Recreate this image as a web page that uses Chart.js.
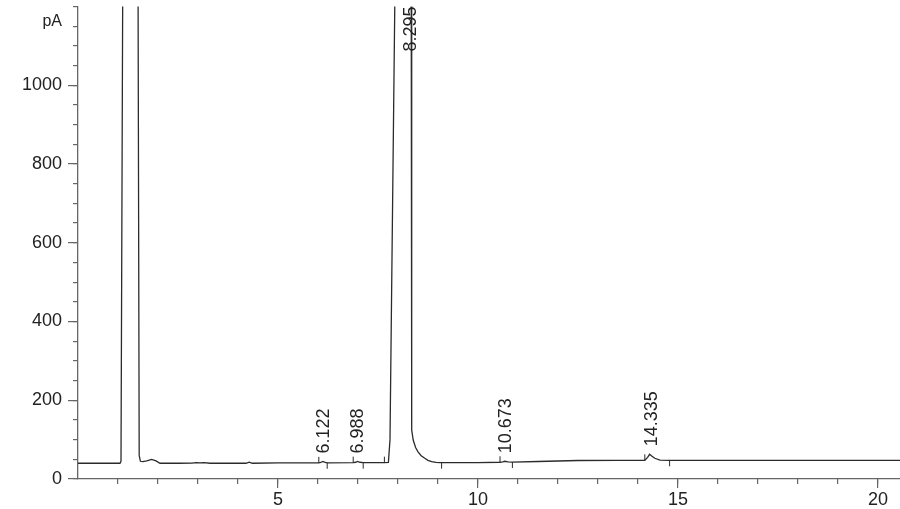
<!DOCTYPE html>
<html>
<head>
<meta charset="utf-8">
<script src="https://cdn.jsdelivr.net/npm/chart.js@4.4.1/dist/chart.umd.min.js"></script>
<style>
  body { margin: 0; background: #fff; }
  #wrap { width: 900px; height: 509px; }
</style>
</head>
<body>
<div id="wrap"><canvas id="fid"></canvas></div>
<script>
// FID trace (min / pA)
const rt = [0.00, 1.05, 1.075, 1.12, 1.50, 1.53, 1.56, 1.62, 1.72, 1.84, 1.95, 2.05, 2.5, 2.85, 2.95, 3.05, 3.15, 3.3,
  4.2, 4.28, 4.36, 5.0, 6.02, 6.07, 6.12, 6.18, 6.23, 6.88, 6.94, 6.99, 7.05, 7.13, 7.66, 7.76, 7.80, 7.93,
  8.33, 8.335, 8.35, 8.38, 8.44, 8.50, 8.58, 8.67, 8.75, 8.84, 8.95, 9.05, 10.0, 10.55, 10.62, 10.67, 10.75, 10.86,
  11.5, 12.5, 13.5, 14.17, 14.24, 14.29, 14.35, 14.42, 14.55, 14.79, 20.55];
const signal = [40, 40, 45, 1300, 1300, 60, 45, 44, 46, 50, 46, 40, 40, 40.5, 41.5, 41, 41.5, 40,
  40, 43, 40, 41, 41, 42, 44.5, 42, 41.2, 41.5, 42.5, 44.5, 42.5, 41.5, 41.5, 42, 100, 1300,
  1300, 130, 124, 99, 80, 69, 59, 52.6, 47.5, 44, 42, 41.5, 41.5, 42.5, 43.5, 45, 43.5, 43,
  44.5, 47, 47.5, 47.5, 55, 62.7, 58, 52.6, 48, 47.5, 47.5];

// integration marks: peak start (above baseline) and peak end (below baseline)
const startRt = [6.02, 6.88, 7.66, 10.55, 14.17];
const startY = [48.6, 49.1, 49.1, 50.1, 55.1];
const endRt = [6.23, 7.13, 9.09, 10.86, 14.79];
const endY = [33.6, 33.9, 33.9, 35.4, 39.9];

// peak retention time labels
const peakNames = ['6.122', '6.988', '8.295', '10.673', '14.335'];
const peakRt = [6.122, 6.988, 8.295, 10.673, 14.335];
const peakApex = [44.5, 44.5, 1300, 45, 62.7];

const xMax = 20.55;
const yMax = 1200;
const ink = '#2b2b2b';
const axisGrey = '#666';

Chart.defaults.font.family = '"Liberation Sans", Arial, sans-serif';
Chart.defaults.color = '#222';

function toPoints(xs, ys) {
  return xs.map((v, i) => ({ x: v, y: ys[i] }));
}

// no extra room for tick labels: the plot runs to the canvas edge
function noPad(s) {
  s.paddingLeft = 0;
  s.paddingRight = 0;
  s.paddingTop = 0;
  s.paddingBottom = 0;
}

// retention time labels and the pA unit
const peakLabels = {
  id: 'peakLabels',
  afterDatasetsDraw(chart) {
    const { ctx, chartArea, scales: { x, y } } = chart;
    ctx.save();
    ctx.fillStyle = '#222';
    ctx.font = '18px "Liberation Sans", Arial, sans-serif';
    ctx.textBaseline = 'middle';
    ctx.textAlign = 'left';
    peakNames.forEach((name, i) => {
      const px = x.getPixelForValue(peakRt[i]) + 1;
      const w = ctx.measureText(name).width;
      const start = Math.max(y.getPixelForValue(peakApex[i]) - 8, chartArea.top + w);
      ctx.save();
      ctx.translate(px, start);
      ctx.rotate(-Math.PI / 2);
      ctx.fillText(name, 0, 0);
      ctx.restore();
    });
    ctx.font = '16px "Liberation Sans", Arial, sans-serif';
    ctx.textAlign = 'right';
    ctx.fillText('pA', chartArea.left - 16, y.getPixelForValue(1162));
    ctx.restore();
  }
};

new Chart(document.getElementById('fid'), {
  type: 'line',
  data: {
    datasets: [
      {
        data: toPoints(rt, signal),
        borderColor: ink,
        borderWidth: 1.3,
        pointRadius: 0,
        tension: 0,
        clip: 0
      },
      {
        type: 'scatter',
        data: toPoints(startRt, startY),
        pointStyle: 'line',
        rotation: 90,
        radius: 3,
        borderColor: ink,
        borderWidth: 1
      },
      {
        type: 'scatter',
        data: toPoints(endRt, endY),
        pointStyle: 'line',
        rotation: 90,
        radius: 3,
        borderColor: ink,
        borderWidth: 1
      }
    ]
  },
  options: {
    responsive: true,
    maintainAspectRatio: false,
    animation: false,
    layout: { padding: 0, autoPadding: false },
    plugins: {
      legend: { display: false },
      tooltip: { enabled: false }
    },
    scales: {
      x: {
        type: 'linear',
        position: 'bottom',
        weight: 1,
        min: 0,
        max: xMax,
        ticks: {
          stepSize: 5,
          includeBounds: false,
          autoSkip: false,
          maxRotation: 0,
          padding: 1,
          font: { size: 18 },
          callback: v => (v === 0 ? null : v)
        },
        grid: { drawOnChartArea: false, tickLength: 9, color: axisGrey, lineWidth: 1.2 },
        border: { color: axisGrey, width: 1.3 },
        afterFit: s => { s.height = 30; noPad(s); }
      },
      xMinor: {
        type: 'linear',
        position: 'bottom',
        weight: 0,
        min: 0,
        max: xMax,
        ticks: { display: false, stepSize: 1, includeBounds: false, callback: v => (v === 0 ? null : v) },
        grid: { drawOnChartArea: false, tickLength: 5, color: axisGrey, lineWidth: 1.2 },
        border: { display: false },
        afterFit: s => { s.height = 0; noPad(s); }
      },
      y: {
        position: 'left',
        weight: 1,
        min: 0,
        max: yMax,
        ticks: {
          stepSize: 200,
          includeBounds: false,
          padding: 6,
          font: { size: 18 },
          callback: v => (v === yMax ? null : v)
        },
        grid: { drawOnChartArea: false, tickLength: 10, color: axisGrey, lineWidth: 1.2 },
        border: { color: axisGrey, width: 1.3 },
        afterFit: s => { s.width = 78; noPad(s); s.paddingTop = 6.5; }
      },
      yMinor: {
        position: 'left',
        weight: 0,
        min: 0,
        max: yMax,
        ticks: { display: false, stepSize: 50, includeBounds: false },
        grid: { drawOnChartArea: false, tickLength: 5, color: axisGrey, lineWidth: 1.2 },
        border: { display: false },
        afterFit: s => { s.width = 0; noPad(s); }
      }
    }
  },
  plugins: [peakLabels]
});
</script>
</body>
</html>
